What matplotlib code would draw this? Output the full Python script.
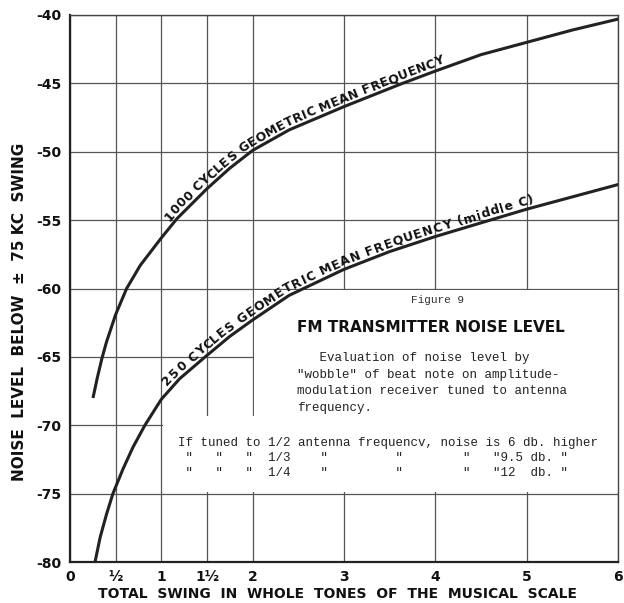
import matplotlib
matplotlib.use('Agg')
import matplotlib.pyplot as plt
import numpy as np
from matplotlib.font_manager import FontProperties
from matplotlib.transforms import IdentityTransform
from matplotlib.patches import Polygon

# values
x_1000 = [0.255, 0.30, 0.35, 0.40, 0.5, 0.62, 0.77, 1.0, 1.17, 1.5, 1.75, 2.0, 2.4, 3.0, 3.64, 4.0, 4.5, 5.0, 5.5, 6.0]
y_1000 = [-67.9, -66.5, -65.1, -63.9, -61.9, -60.0, -58.3, -56.3, -54.9, -52.7, -51.2, -49.9, -48.4, -46.7, -45.0, -44.1, -42.9, -42.0, -41.1, -40.3]

x_250 = [0.274, 0.33, 0.40, 0.47, 0.58, 0.69, 0.82, 1.0, 1.2, 1.48, 1.75, 2.0, 2.4, 3.0, 3.5, 4.0, 4.5, 5.0, 5.5, 6.0]
y_250 = [-80.0, -78.2, -76.5, -75.0, -73.2, -71.6, -70.0, -68.1, -66.6, -65.0, -63.5, -62.3, -60.5, -58.6, -57.3, -56.2, -55.2, -54.2, -53.3, -52.4]

label_1000 = "1000 CYCLES GEOMETRIC MEAN FREQUENCY"
label_250 = "250 CYCLES GEOMETRIC MEAN FREQUENCY (middle C)"

xticks = [0, 0.5, 1, 1.5, 2, 3, 4, 5, 6]
xtick_labels = ['0', '½', '1', '1½', '2', '3', '4', '5', '6']
yticks = [-80, -75, -70, -65, -60, -55, -50, -45, -40]
ytick_labels = ['-80', '-75', '-70', '-65', '-60', '-55', '-50', '-45', '-40']

title = "FM TRANSMITTER NOISE LEVEL"
fig_no = "Figure 9"
note_lines = ["   Evaluation of noise level by",
              '"wobble" of beat note on amplitude-',
              "modulation receiver tuned to antenna",
              "frequency."]
tuned_lines = ['If tuned to 1/2 antenna frequencv, noise is 6 db. higher',
               ' "   "   "  1/3    "         "        "   "9.5 db. "',
               ' "   "   "  1/4    "         "        "   "12  db. "']

W, H = 624, 603
fig = plt.figure(figsize=(W / 100, H / 100), dpi=100)
ax = fig.add_axes([70 / W, 1 - 562 / H, 548 / W, 547 / H])
ax.set_xlim(0, 6)
ax.set_ylim(-80, -40)

ax.set_xticks(xticks)
ax.set_xticklabels(xtick_labels)
ax.set_yticks(yticks)
ax.set_yticklabels(ytick_labels)
ax.tick_params(length=0, labelsize=10, pad=6)
for t in ax.get_xticklabels() + ax.get_yticklabels():
    t.set_fontweight('bold')
    t.set_color('#111')
ax.grid(True, color='#555', lw=0.9, zorder=0)
ax.set_axisbelow(True)
for side in ['left', 'bottom']:
    ax.spines[side].set_linewidth(1.6)
    ax.spines[side].set_color('#222')
for side in ['top', 'right']:
    ax.spines[side].set_linewidth(1.0)
    ax.spines[side].set_color('#444')

# white panel that hides the grid behind the notes
box = Polygon([(1.015, -74.88), (6.0, -74.88), (6.0, -60.12),
               (2.015, -60.12), (2.015, -69.3), (1.015, -69.3)],
              closed=True, facecolor='white', edgecolor='none', zorder=1.5)
ax.add_patch(box)

ax.plot(x_1000, y_1000, color='#222', lw=2.2, zorder=3, solid_joinstyle='round')
ax.plot(x_250, y_250, color='#222', lw=2.2, zorder=3, solid_joinstyle='round')

r = fig.canvas.get_renderer()


def curve_label(xs, ys, text, x0, x1, offset, size):
    fp = FontProperties(family='DejaVu Sans', weight='bold', size=size)
    pts = ax.transData.transform(np.column_stack([xs, ys]))
    seg = np.hypot(*np.diff(pts, axis=0).T)
    s = np.concatenate([[0], np.cumsum(seg)])

    def at(sv):
        return np.interp(sv, s, pts[:, 0]), np.interp(sv, s, pts[:, 1])

    bar = r.get_text_width_height_descent('|', fp, ismath=False)[0]

    def width(t):
        return r.get_text_width_height_descent(t + '|', fp, ismath=False)[0] - bar

    s0 = np.interp(x0, xs, s)
    s1 = np.interp(x1, xs, s)
    pre = [width(text[:i]) for i in range(len(text) + 1)]
    extra = (s1 - s0 - pre[-1]) / (len(text) - 1)
    for i, ch in enumerate(text):
        if ch == ' ':
            continue
        wc = pre[i + 1] - pre[i]
        sc = s0 + pre[i] + i * extra + wc / 2
        ax0, ay0 = at(sc - 10)
        bx, by = at(sc + 10)
        ang = np.arctan2(by - ay0, bx - ax0)
        cx, cy = at(sc)
        fig.text(cx - offset * np.sin(ang), cy + offset * np.cos(ang), ch,
                 transform=IdentityTransform(), rotation=np.degrees(ang),
                 rotation_mode='anchor', ha='center', va='baseline',
                 fontproperties=fp, color='#111', zorder=4)


curve_label(x_1000, y_1000, label_1000, 1.12, 4.12, 4, 9)
curve_label(x_250, y_250, label_250, 1.1, 5.1, 4, 9)

# notes
def px(x, y):
    return x / W, 1 - y / H

fig.text(*px(438, 300), fig_no, family='Liberation Mono', size=8, ha='center', va='center', color='#333')
fig.text(*px(431, 328), title, family='DejaVu Sans', weight='bold', size=11, ha='center', va='center', color='#111')
for i, line in enumerate(note_lines):
    fig.text(*px(297, 358 + i * 16.7), line, family='Liberation Mono', size=9, ha='left', va='center', color='#222')
for i, line in enumerate(tuned_lines):
    fig.text(*px(178, 443 + i * 15), line, family='Liberation Mono', size=9, ha='left', va='center', color='#222')

fig.text(*px(20, 312), "NOISE  LEVEL  BELOW  ±  75 KC  SWING", rotation=90,
         ha='center', va='center', weight='bold', size=11, color='#111')
fig.text(*px(338, 594), "TOTAL  SWING  IN  WHOLE  TONES  OF  THE  MUSICAL  SCALE",
         ha='center', va='center', weight='bold', size=10, color='#111')

fig.savefig('out.png', dpi=100, facecolor='white')
